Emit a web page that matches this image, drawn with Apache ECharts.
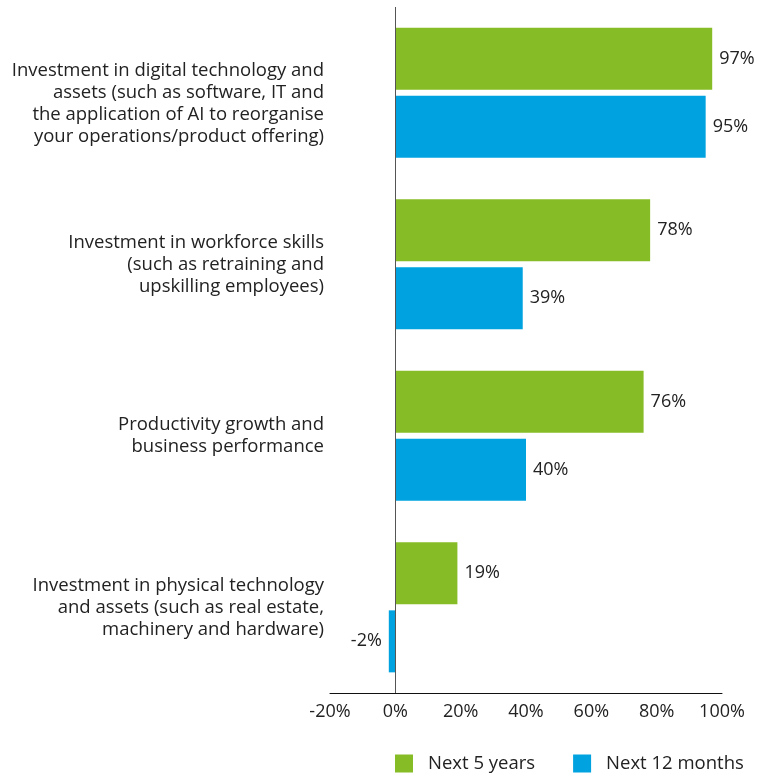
<!DOCTYPE html>
<html>
<head>
<meta charset="utf-8">
<script src="https://cdn.jsdelivr.net/npm/echarts@6/dist/echarts.min.js"></script>
<style>
  html, body { margin: 0; padding: 0; background: #ffffff; }
  #chart { width: 769px; height: 777px; }
</style>
</head>
<body>
<div id="chart"></div>
<script>
// categories top to bottom
const categories = [
  'Investment in digital technology and\nassets (such as software, IT and\nthe application of AI to reorganise\nyour operations/product offering)',
  'Investment in workforce skills\n(such as retraining and\nupskilling employees)',
  'Productivity growth and\nbusiness performance',
  'Investment in physical technology\nand assets (such as real estate,\nmachinery and hardware)'
]
const next5Years = [97, 78, 76, 19]
const next12Months = [95, 39, 40, -2]
const xTicks = { min: -20, max: 100, step: 20 }

const GREEN = '#86bc25'
const BLUE = '#00a3e0'
const FONT = '"Open Sans", "Noto Sans", sans-serif'

// labels go on the outer end of each bar, left side for negatives
function barData(values) {
  return values.map((v) => ({
    value: v,
    label: { position: v < 0 ? 'left' : 'right' },
  }))
}

const labelStyle = {
  show: true,
  formatter: '{c}%',
  distance: 7,
  color: '#222222',
  fontFamily: FONT,
  fontSize: 18,
}

const chart = echarts.init(document.getElementById('chart'))
chart.setOption({
  animation: false,
  grid: { left: 330, right: 47, top: 7, bottom: 84, containLabel: false },
  legend: {
    top: 754,
    left: 395,
    padding: 0,
    icon: 'rect',
    itemWidth: 18,
    itemHeight: 18,
    itemGap: 38,
    textStyle: { color: '#222222', fontFamily: FONT, fontSize: 18.5, padding: [0, 0, 0, 10] },
    data: ['Next 5 years', 'Next 12 months'],
  },
  xAxis: {
    type: 'value',
    min: xTicks.min,
    max: xTicks.max,
    interval: xTicks.step,
    axisLine: { show: true, onZero: false, lineStyle: { color: '#111111', width: 1 } },
    axisTick: { show: false },
    splitLine: { show: false },
    axisLabel: {
      formatter: '{value}%',
      margin: 10,
      color: '#222222',
      fontFamily: FONT,
      fontSize: 18,
    },
  },
  yAxis: {
    type: 'category',
    inverse: true,
    data: categories,
    axisLine: { show: false },
    axisTick: { show: false },
    axisLabel: {
      margin: 6,
      align: 'right',
      color: '#222222',
      fontFamily: FONT,
      fontSize: 18.5,
      lineHeight: 22,
      // the first label sits a little lower than its bars in the original
      formatter: (value, index) => (index === 0 ? '\n' + value : value),
    },
  },
  series: [
    {
      name: 'Next 5 years',
      type: 'bar',
      barWidth: 62,
      barGap: '10%',
      itemStyle: { color: GREEN },
      label: labelStyle,
      data: barData(next5Years),
      markLine: {
        silent: true,
        symbol: 'none',
        label: { show: false },
        lineStyle: { color: '#555555', width: 1, type: 'solid' },
        data: [{ xAxis: 0 }],
      },
    },
    {
      name: 'Next 12 months',
      type: 'bar',
      barWidth: 62,
      barGap: '10%',
      itemStyle: { color: BLUE },
      label: labelStyle,
      data: barData(next12Months),
    },
  ],
})
</script>
</body>
</html>
